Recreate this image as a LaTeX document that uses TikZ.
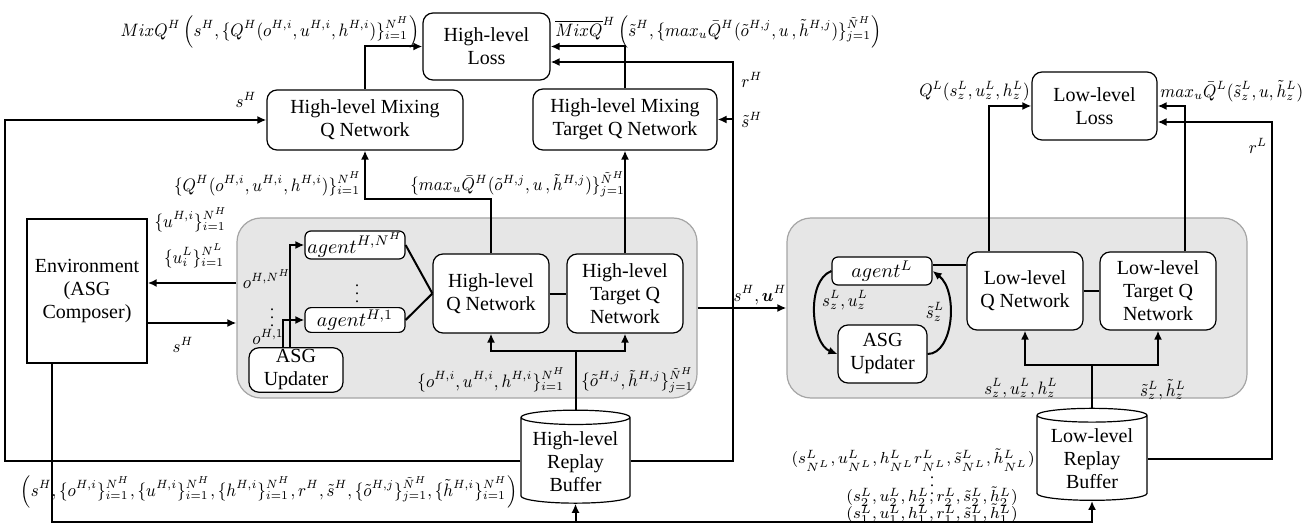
\documentclass[tikz,border=0pt]{standalone}
\usepackage{amsmath}
\usepackage{fontspec}
\setmainfont{Liberation Serif}
\usetikzlibrary{arrows.meta,shapes.geometric}
\definecolor{panelgray}{RGB}{230,230,230}
\definecolor{panelborder}{RGB}{165,165,165}
\begin{document}
\begin{tikzpicture}[x=0.5pt,y=-0.5pt,font=\fontsize{10}{11.5}\selectfont]
    \tikzset{
      blk/.style={draw,rounded corners=5pt,fill=white,align=center,inner sep=1pt,line width=0.6pt},
      agentbox/.style={draw,rounded corners=3pt,fill=white,inner sep=1pt,line width=0.6pt,minimum width=50pt},
      panel/.style={draw=panelborder,fill=panelgray,rounded corners=12pt,line width=0.6pt,minimum width=230pt,minimum height=90pt},
      buffer/.style={cylinder,shape border rotate=90,draw,fill=white,aspect=0.16,align=center,inner sep=1pt,line width=0.6pt},
      wire/.style={line width=1pt},
      conn/.style={line width=1pt,-{Latex[length=4.5pt,width=4pt]}},
      lbl/.style={inner sep=0pt,font=\fontsize{9}{10}\selectfont,xscale=0.92,transform shape},
      tuplbl/.style={inner sep=0pt,font=\fontsize{8}{9}\selectfont},
      dotlbl/.style={inner sep=0pt,font=\fontsize{8}{8}\selectfont}
    }
    \useasboundingbox (0,0) rectangle (1316,529);

        %PANELS
        \node[panel] (hpanel) at (467,308) {};
        \node[panel] (lpanel) at (1017,308) {};

        %ENVIRONMENT
        \node[draw,line width=0.7pt,minimum width=60pt,minimum height=72pt,align=center] (env) at (87,291) {Environment\\(ASG\\Composer)};

        %HIGH LEVEL
        \node[blk,minimum width=63.5pt,minimum height=33.5pt] (hloss) at (486.5,46.5) {High-level\\Loss};
        \node[blk,minimum width=98pt,minimum height=30pt] (hmix) at (365,120) {High-level Mixing\\Q Network};
        \node[blk,minimum width=92pt,minimum height=30.5pt] (hmixt) at (625,119.5) {High-level Mixing\\Target Q Network};
        \node[agentbox] (agentN) at (355,245) {$agent^{H,N^H}$};
        \node[agentbox] (agent1) at (355,320) {$agent^{H,1}$};
        \node[blk,minimum width=47pt,minimum height=22pt] (hupd) at (296,370) {ASG\\Updater};
        \node[blk,minimum width=58pt,minimum height=39.5pt] (hq) at (491,293.5) {High-level\\Q Network};
        \node[blk,minimum width=58pt,minimum height=39.5pt] (hqt) at (625,293.5) {High-level\\Target Q\\Network};
        \node[buffer,minimum width=54.5pt,minimum height=46.5pt] (hbuf) at (575.5,461.5) {High-level\\Replay\\Buffer};

        %LOW LEVEL
        \node[agentbox,minimum height=14pt] (agentL) at (882,271) {$agent^{L}$};
        \node[blk,minimum width=44.5pt,minimum height=29pt] (lupd) at (882.5,354) {ASG\\Updater};
        \node[blk,minimum width=58pt,minimum height=39pt] (lq) at (1025,291) {Low-level\\Q Network};
        \node[blk,minimum width=58pt,minimum height=39pt] (lqt) at (1158,291) {Low-level\\Target Q\\Network};
        \node[blk,minimum width=62.5pt,minimum height=34pt] (lloss) at (1094.5,106) {Low-level\\Loss};
        \node[buffer,minimum width=55pt,minimum height=46pt] (lbuf) at (1092,459) {Low-level\\Replay\\Buffer};

        %HIGH LEVEL WIRES
        \draw[conn] (hmix.north) |- (hloss.west);
        \draw[conn] (hmixt.north) |- (hloss.east);
        \coordinate (rHbend) at (733,62);
        \draw[conn] (hbuf.east) -| (rHbend) -- (hloss.east |- rHbend);
        \draw[conn] (hmixt.east -| rHbend) -- (hmixt.east);
        \coordinate (sHbend) at (5,120);
        \draw[conn] (hbuf.west) -| (sHbend) -- (hmix.west);
        \draw[conn] (hq.north) -- ++(0,-54) -| (hmix.south);
        \draw[conn] (hqt.north) -- (hmixt.south);
        \draw[wire] (hq.east) -- (hqt.west);
        \draw[wire] (agentN.east) -- (hq.west);
        \draw[wire] (agent1.east) -- (hq.west);
        \draw[conn] ([xshift=-3pt]hupd.north) |- (agentN.west);
        \draw[conn] ([xshift=-6.5pt]hupd.north) |- (agent1.west);
        \draw[wire] (hbuf.north) -- ++(0,-59) coordinate (hsplit);
        \draw[conn] (hsplit) -| (hq.south);
        \draw[conn] (hsplit) -| (hqt.south);

        %ENVIRONMENT WIRES
        \coordinate (envin) at ([yshift=4pt]env.east);
        \draw[conn] (hpanel.west |- envin) -- (envin);
        \coordinate (envout) at ([yshift=-16pt]env.east);
        \draw[conn] (envout) -- (hpanel.west |- envout);
        \coordinate (bus) at (1092,522);
        \draw[conn] ([xshift=-17.5pt]env.south) |- (bus) -- (lbuf.south);
        \draw[conn] (hbuf.south |- bus) -- (hbuf.south);
        \draw[conn] (hpanel.east) -- (lpanel.west);

        %LOW LEVEL WIRES
        \draw[wire] (lbuf.north) -- ++(0,-43) coordinate (lsplit);
        \draw[conn] (lsplit) -| (lq.south);
        \draw[conn] (lsplit) -| (lqt.south);
        \draw[conn] ([xshift=-18pt]lq.north) |- (lloss.west);
        \draw[conn] ([xshift=13.5pt]lqt.north) |- (lloss.east);
        \coordinate (rLbend) at (1272,122);
        \draw[conn] (lbuf.east) -| (rLbend) -- (lloss.east |- rLbend);
        \coordinate (lqa) at ([yshift=13pt]lq.west);
        \draw[wire] (lqa) -- (agentL.east |- lqa);
        \draw[wire] (lq.east) -- (lqt.west);
        \draw[conn] (agentL.west) .. controls +(-26,10) and +(-26,-10) .. (lupd.west);
        \draw[conn] (lupd.east) .. controls +(26,0) and +(26,20) .. (agentL.east);

        %LABELS
        \node[lbl,anchor=east] (mixlbl) at (420,32) {$MixQ^H\left(s^H,\{Q^H(o^{H,i},u^{H,i},h^{H,i})\}^{N^H}_{i=1}\right)$};
        \node[lbl,anchor=west] (mixtlbl) at (555,32) {$\overline{MixQ}^H\left(\tilde{s}^H,\{max_u\bar{Q}^H(\tilde{o}^{H,j},u\,,\tilde{h}^{H,j})\}^{\tilde{N}^H}_{j=1}\right)$};
        \node[lbl] (sHtop) at (246,100) {$s^H$};
        \node[lbl,anchor=west] (rH) at (741,80) {$r^H$};
        \node[lbl,anchor=west] (stH) at (741,120) {$\tilde{s}^H$};
        \node[lbl,anchor=east] (qlbl) at (362,184) {$\{Q^H(o^{H,i},u^{H,i},h^{H,i})\}^{N^H}_{i=1}$};
        \node[lbl,anchor=west] (qtlbl) at (410,184) {$\{max_u\bar{Q}^H(\tilde{o}^{H,j},u\,,\tilde{h}^{H,j})\}^{\tilde{N}^H}_{j=1}$};
        \node[lbl] (uH) at (191,220) {$\{u^{H,i}\}^{N^H}_{i=1}$};
        \node[lbl] (uL) at (194,256) {$\{u^{L}_{i}\}^{N^L}_{i=1}$};
        \node[lbl] (sHenv) at (183,345) {$s^H$};
        \node[lbl] (oN) at (267,279) {$o^{H,N^H}$};
        \node[dotlbl] (odots) at (272,312) {$\vdots$};
        \node[lbl] (o1) at (268,337) {$o^{H,1}$};
        \node[dotlbl] (agdots) at (357,288) {$\vdots$};
        \node[lbl,anchor=east] (ouh) at (566,380) {$\{o^{H,i},u^{H,i},h^{H,i}\}^{N^H}_{i=1}$};
        \node[lbl,anchor=west] (oth) at (581,380) {$\{\tilde{o}^{H,j},\tilde{h}^{H,j}\}^{\tilde{N}^H}_{j=1}$};
        \node[lbl] (sHuH) at (760,295) {$s^H,\boldsymbol{u}^H$};
        \node[lbl,anchor=east] (hbuflbl) at (518,492) {$\left(s^H,\{o^{H,i}\}^{N^H}_{i=1},\{u^{H,i}\}^{N^H}_{i=1},\{h^{H,i}\}^{N^H}_{i=1},r^H,\tilde{s}^H,\{\tilde{o}^{H,j}\}^{\tilde{N}^H}_{j=1},\{\tilde{h}^{H,i}\}^{N^H}_{i=1}\right)$};

        \node[lbl,anchor=east] (qLlbl) at (1030,91) {$Q^L(s^L_z,u^L_z,h^L_z)$};
        \node[lbl,anchor=west] (qtLlbl) at (1160,91) {$max_u\bar{Q}^L(\tilde{s}^L_z,u,\tilde{h}^L_z)$};
        \node[lbl] (rL) at (1258,146) {$r^L$};
        \node[lbl] (suL) at (845,300) {$s^L_z,u^L_z$};
        \node[lbl] (stL) at (935,312) {$\tilde{s}^L_z$};
        \node[lbl] (suhL) at (1021,388) {$s^L_z,u^L_z,h^L_z$};
        \node[lbl] (sthL) at (1163,390) {$\tilde{s}^L_z,\tilde{h}^L_z$};
        \node[tuplbl,anchor=east] (tupN) at (1035,460) {$(s^L_{N^L},u^L_{N^L},h^L_{N^L}r^L_{N^L},\tilde{s}^L_{N^L},\tilde{h}^L_{N^L})$};
        \node[dotlbl] (tupdots) at (932,480) {$\vdots$};
        \node[tuplbl] (tup2) at (932,497) {$(s^L_2,u^L_2,h^L_2,r^L_2,\tilde{s}^L_2,\tilde{h}^L_2)$};
        \node[tuplbl] (tup1) at (932,514) {$(s^L_1,u^L_1,h^L_1,r^L_1,\tilde{s}^L_1,\tilde{h}^L_1)$};
\end{tikzpicture}
\end{document}
